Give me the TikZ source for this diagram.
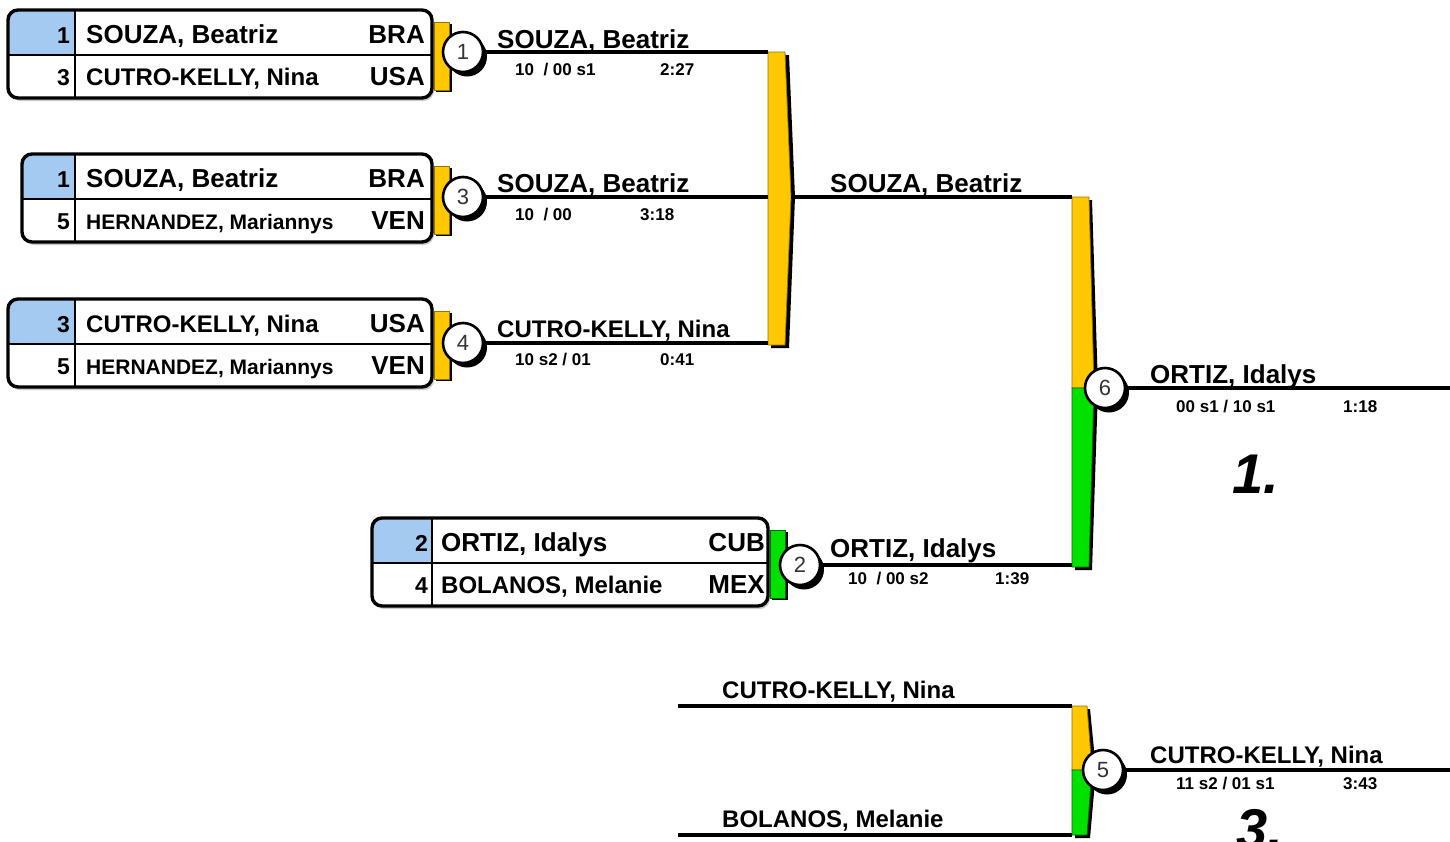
\documentclass[tikz,border=0pt]{standalone}
\usepackage{fontspec}
\setmainfont{Liberation Sans}
\usepackage{tikz}

\definecolor{tabyellow}{RGB}{255,200,0}
\definecolor{tabyellowdark}{RGB}{150,115,0}
\definecolor{tabgreen}{RGB}{0,225,0}
\definecolor{tabgreendark}{RGB}{0,110,0}
\definecolor{seedblue}{RGB}{164,202,242}

\tikzset{
  wire/.style={line width=3.2pt},
  frame/.style={line width=3.4pt, rounded corners=10pt},
  grid/.style={line width=1.4pt},
  fight/.style={circle, draw=black, line width=2.6pt, fill=white, minimum size=40pt, inner sep=0pt,
    font=\fontsize{22}{22}\selectfont, text=black!80,
    preaction={fill=black, transform canvas={shift={(4pt,-4.5pt)}}}},
  nm/.style={anchor=base west, inner sep=0pt, font=\bfseries\fontsize{26}{26}\selectfont},
  nmmid/.style={nm, font=\bfseries\fontsize{24}{24}\selectfont},
  nmsm/.style={nm, font=\bfseries\fontsize{21}{21}\selectfont},
  cty/.style={anchor=base east, inner sep=0pt, font=\bfseries\fontsize{26}{26}\selectfont},
  seed/.style={anchor=base east, inner sep=0pt, font=\bfseries\fontsize{23}{23}\selectfont},
  score/.style={anchor=base west, inner sep=0pt, font=\bfseries\fontsize{17}{17}\selectfont},
  rank/.style={anchor=base west, inner sep=0pt, font=\bfseries\itshape\fontsize{56}{56}\selectfont}
}

% pool box: left, top, right, seed column, tab colour
\newcommand{\poolbox}[5]{%
  \fill[black!20, rounded corners=10pt] (#1+2,#2+3) rectangle (#3+2,#2+91);
  \begin{scope}
    \clip[rounded corners=10pt] (#1,#2) rectangle (#3,#2+88);
    \fill[white] (#1,#2) rectangle (#3,#2+88);
    \fill[seedblue] (#1,#2) rectangle (#4,#2+45);
  \end{scope}
  \draw[grid] (#1,#2+45) -- (#3,#2+45);
  \draw[grid] (#4,#2) -- (#4,#2+88);
  \draw[frame] (#1,#2) rectangle (#3,#2+88);
  \fill[black] (#3+4,#2+14) rectangle (#3+20,#2+82);
  \filldraw[fill=#5, draw=#5dark, line width=0.8pt] (#3+2,#2+12) rectangle (#3+17,#2+80);
}

\begin{document}
\begin{tikzpicture}[x=1pt,y=-1pt]
\useasboundingbox[fill=white] (0,0) rectangle (1450,841);

% boxes
\poolbox{8}{10}{432}{75}{tabyellow}
\poolbox{22}{154}{432}{75}{tabyellow}
\poolbox{8}{299}{432}{75}{tabyellow}
\poolbox{372}{518}{768}{432}{tabgreen}

% bars
\fill[black] (771,55) -- (789,55) -- (795,197) -- (789,348) -- (771,348) -- cycle;
\filldraw[fill=tabyellow, draw=tabyellowdark, line width=0.8pt] (768,52) -- (785,52) -- (791,197) -- (785,345) -- (768,345) -- cycle;
\fill[black] (1075,200) -- (1092,200) -- (1098,388) -- (1092,570) -- (1075,570) -- cycle;
\filldraw[fill=tabyellow, draw=tabyellowdark, line width=0.8pt] (1072,197) -- (1089,197) -- (1094,388) -- (1072,388) -- cycle;
\filldraw[fill=tabgreen, draw=tabgreendark, line width=0.8pt] (1072,388) -- (1094,388) -- (1089,567) -- (1072,567) -- cycle;
\fill[black] (1075,709) -- (1090,709) -- (1096,770) -- (1090,838) -- (1075,838) -- cycle;
\filldraw[fill=tabyellow, draw=tabyellowdark, line width=0.8pt] (1072,706) -- (1087,706) -- (1092,770) -- (1072,770) -- cycle;
\filldraw[fill=tabgreen, draw=tabgreendark, line width=0.8pt] (1072,770) -- (1092,770) -- (1087,835) -- (1072,835) -- cycle;

% fights
\node[fight] (m1) at (463,52) {1};
\node[fight] (m3) at (463,197) {3};
\node[fight] (m4) at (463,343) {4};
\node[fight] (m2) at (800,565) {2};
\node[fight] (m6) at (1105,388) {6};
\node[fight] (m5) at (1103,770) {5};

\coordinate (b1a) at (768,52);
\coordinate (b1b) at (768,197);
\coordinate (b1c) at (768,343);
\coordinate (b1o) at (791,197);
\coordinate (b6a) at (1072,197);
\coordinate (b6b) at (1072,565);
\coordinate (e6) at (1450,388);
\coordinate (p5a) at (678,706);
\coordinate (b5a) at (1072,706);
\coordinate (p5b) at (678,835);
\coordinate (b5b) at (1072,835);
\coordinate (e5) at (1450,770);

\draw[wire] (m1) -- (b1a);
\draw[wire] (m3) -- (b1b);
\draw[wire] (m4) -- (b1c);
\draw[wire] (b1o) -- (b6a);
\draw[wire] (m2) -- (b6b);
\draw[wire] (m6) -- (e6);
\draw[wire] (p5a) -- (b5a);
\draw[wire] (p5b) -- (b5b);
\draw[wire] (m5) -- (e5);

% box texts
\node[seed] (s1a) at (70,43) {1};
\node[nm] (n1a) at (86,43) {SOUZA, Beatriz};
\node[cty] (c1a) at (425,43) {BRA};
\node[seed] (s1b) at (70,85) {3};
\node[nmmid] (n1b) at (86,85) {CUTRO-KELLY, Nina};
\node[cty] (c1b) at (425,85) {USA};

\node[seed] (s3a) at (70,187) {1};
\node[nm] (n3a) at (86,187) {SOUZA, Beatriz};
\node[cty] (c3a) at (425,187) {BRA};
\node[seed] (s3b) at (70,229) {5};
\node[nmsm] (n3b) at (86,229) {HERNANDEZ, Mariannys};
\node[cty] (c3b) at (425,229) {VEN};

\node[seed] (s4a) at (70,332) {3};
\node[nmmid] (n4a) at (86,332) {CUTRO-KELLY, Nina};
\node[cty] (c4a) at (425,332) {USA};
\node[seed] (s4b) at (70,374) {5};
\node[nmsm] (n4b) at (86,374) {HERNANDEZ, Mariannys};
\node[cty] (c4b) at (425,374) {VEN};

\node[seed] (s2a) at (428,551) {2};
\node[nm] (n2a) at (441,551) {ORTIZ, Idalys};
\node[cty] (c2a) at (765,551) {CUB};
\node[seed] (s2b) at (428,593) {4};
\node[nmmid] (n2b) at (441,593) {BOLANOS, Melanie};
\node[cty] (c2b) at (765,593) {MEX};

% results
\node[nm] (w1) at (497,48) {SOUZA, Beatriz};
\node[score] (r1) at (515,75) {10\ \ / 00 s1};
\node[score] (t1) at (660,75) {2:27};
\node[nm] (w3) at (497,192) {SOUZA, Beatriz};
\node[score] (r3) at (515,220) {10\ \ / 00};
\node[score] (t3) at (640,220) {3:18};
\node[nmmid] (w4) at (497,337) {CUTRO-KELLY, Nina};
\node[score] (r4) at (515,365) {10 s2 / 01};
\node[score] (t4) at (660,365) {0:41};
\node[nm] (wb1) at (830,192) {SOUZA, Beatriz};
\node[nm] (w2) at (830,557) {ORTIZ, Idalys};
\node[score] (r2) at (848,584) {10\ \ / 00 s2};
\node[score] (t2) at (995,584) {1:39};
\node[nm] (w6) at (1150,383) {ORTIZ, Idalys};
\node[score] (r6) at (1176,412) {00 s1 / 10 s1};
\node[score] (t6) at (1343,412) {1:18};
\node[rank] (k1) at (1232,493) {1.};

\node[nmmid] (q5a) at (722,698) {CUTRO-KELLY, Nina};
\node[nmmid] (q5b) at (722,827) {BOLANOS, Melanie};
\node[nmmid] (w5) at (1150,763) {CUTRO-KELLY, Nina};
\node[score] (r5) at (1176,789) {11 s2 / 01 s1};
\node[score] (t5) at (1343,789) {3:43};
\node[rank] (k3) at (1236,848) {3.};
\end{tikzpicture}
\end{document}
